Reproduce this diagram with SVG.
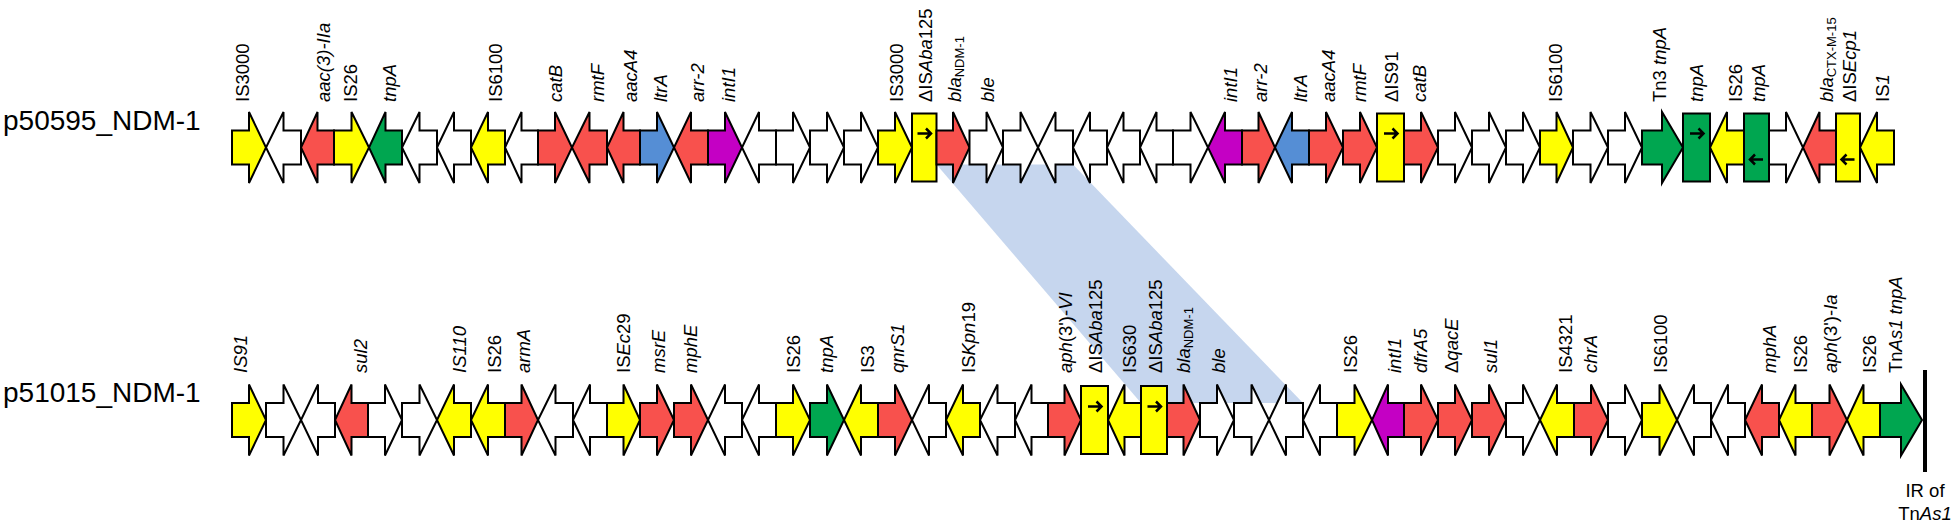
<svg xmlns="http://www.w3.org/2000/svg" width="1955" height="525" viewBox="0 0 1955 525">
<style>
path.a,rect.a{stroke:#000;stroke-width:2;stroke-linejoin:miter}
.y{fill:#ffff00}.w{fill:#fff}.r{fill:#f8514d}.g{fill:#00a650}.b{fill:#558ed5}.p{fill:#c400c4}
text{font-family:"Liberation Sans",Arial,sans-serif;font-size:18.5px;fill:#000}
.i{font-style:italic}
.sub{font-size:13px}
.big{font-size:28px}
.mk{fill:none;stroke:#000;stroke-width:2.5}
</style>
<rect width="1955" height="525" fill="#fff"/>
<g id="connectors">
<polygon points="936.5,164.5 1073,164.5 1303,403 1141,403" fill="#c6d6ee"/>
</g>
<g id="row-labels">
<text class="big" x="3" y="130">p50595_NDM-1</text>
<text class="big" x="3" y="402">p51015_NDM-1</text>
</g>
<g id="top-row">
<g id="t01"><path class="a y" d="M232,130.5H249V112L266,147.5L249,183V164.5H232Z"/><text transform="translate(248.5,102) rotate(-90)">IS3000</text></g>
<g id="t02"><path class="a w" d="M301,130.5H283.5V112L266,147.5L283.5,183V164.5H301Z"/></g>
<g id="t03"><path class="a r" d="M334,130.5H317.5V112L301,147.5L317.5,183V164.5H334Z"/><text class="i" transform="translate(330,102) rotate(-90)">aac(3)-IIa</text></g>
<g id="t04"><path class="a y" d="M334,130.5H351.5V112L369,147.5L351.5,183V164.5H334Z"/><text transform="translate(357,102) rotate(-90)">IS26</text></g>
<g id="t05"><path class="a g" d="M402,130.5H385.5V112L369,147.5L385.5,183V164.5H402Z"/><text class="i" transform="translate(396,102) rotate(-90)">tnpA</text></g>
<g id="t06"><path class="a w" d="M437,130.5H419.5V112L402,147.5L419.5,183V164.5H437Z"/></g>
<g id="t07"><path class="a w" d="M471,130.5H454V112L437,147.5L454,183V164.5H471Z"/></g>
<g id="t08"><path class="a y" d="M505,130.5H488V112L471,147.5L488,183V164.5H505Z"/><text transform="translate(502,102) rotate(-90)">IS6100</text></g>
<g id="t09"><path class="a w" d="M538,130.5H521.5V112L505,147.5L521.5,183V164.5H538Z"/></g>
<g id="t10"><path class="a r" d="M538,130.5H555V112L572,147.5L555,183V164.5H538Z"/><text class="i" transform="translate(561.5,102) rotate(-90)">catB</text></g>
<g id="t11"><path class="a r" d="M607,130.5H589.5V112L572,147.5L589.5,183V164.5H607Z"/><text class="i" transform="translate(603.5,102) rotate(-90)">rmtF</text></g>
<g id="t12"><path class="a r" d="M640,130.5H623.5V112L607,147.5L623.5,183V164.5H640Z"/><text class="i" transform="translate(636.5,102) rotate(-90)">aacA4</text></g>
<g id="t13"><path class="a b" d="M640,130.5H657V112L674,147.5L657,183V164.5H640Z"/><text class="i" transform="translate(666.5,102) rotate(-90)">ltrA</text></g>
<g id="t14"><path class="a r" d="M708,130.5H691V112L674,147.5L691,183V164.5H708Z"/><text class="i" transform="translate(703.5,102) rotate(-90)">arr-2</text></g>
<g id="t15"><path class="a p" d="M708,130.5H725V112L742,147.5L725,183V164.5H708Z"/><text class="i" transform="translate(734.5,102) rotate(-90)">intI1</text></g>
<g id="t16"><path class="a w" d="M776,130.5H759V112L742,147.5L759,183V164.5H776Z"/></g>
<g id="t17"><path class="a w" d="M776,130.5H793V112L810,147.5L793,183V164.5H776Z"/></g>
<g id="t18"><path class="a w" d="M810,130.5H827V112L844,147.5L827,183V164.5H810Z"/></g>
<g id="t19"><path class="a w" d="M844,130.5H861V112L878,147.5L861,183V164.5H844Z"/></g>
<g id="t20"><path class="a y" d="M878,130.5H895V112L912,147.5L895,183V164.5H878Z"/><text transform="translate(902.5,102) rotate(-90)">IS3000</text></g>
<g id="t21"><rect class="a y" x="912" y="113.5" width="24.5" height="68"/><path class="mk" d="M917.5,133.5H931M926,128.5L931,133.5L926,138.5"/><text transform="translate(931.5,102) rotate(-90)">ΔIS<tspan class="i">Aba</tspan>125</text></g>
<g id="t22"><path class="a r" d="M936.5,130.5H953V112L969.5,147.5L953,183V164.5H936.5Z"/><text transform="translate(961,102) rotate(-90)"><tspan class="i">bla</tspan><tspan class="sub" dy="3">NDM-1</tspan></text></g>
<g id="t23"><path class="a w" d="M969.5,130.5H986.5V112L1003,147.5L986.5,183V164.5H969.5Z"/><text class="i" transform="translate(993.5,102) rotate(-90)">ble</text></g>
<g id="t24"><path class="a w" d="M1003,130.5H1020.5V112L1038,147.5L1020.5,183V164.5H1003Z"/></g>
<g id="t25"><path class="a w" d="M1073,130.5H1055.5V112L1038,147.5L1055.5,183V164.5H1073Z"/></g>
<g id="t26"><path class="a w" d="M1107,130.5H1090V112L1073,147.5L1090,183V164.5H1107Z"/></g>
<g id="t27"><path class="a w" d="M1140,130.5H1123.5V112L1107,147.5L1123.5,183V164.5H1140Z"/></g>
<g id="t28"><path class="a w" d="M1173,130.5H1156.5V112L1140,147.5L1156.5,183V164.5H1173Z"/></g>
<g id="t29"><path class="a w" d="M1173,130.5H1190.5V112L1208,147.5L1190.5,183V164.5H1173Z"/></g>
<g id="t30"><path class="a p" d="M1242,130.5H1225V112L1208,147.5L1225,183V164.5H1242Z"/><text class="i" transform="translate(1236.5,102) rotate(-90)">intI1</text></g>
<g id="t31"><path class="a r" d="M1242,130.5H1258.5V112L1275,147.5L1258.5,183V164.5H1242Z"/><text class="i" transform="translate(1266.5,102) rotate(-90)">arr-2</text></g>
<g id="t32"><path class="a b" d="M1309,130.5H1292V112L1275,147.5L1292,183V164.5H1309Z"/><text class="i" transform="translate(1306.5,102) rotate(-90)">ltrA</text></g>
<g id="t33"><path class="a r" d="M1309,130.5H1326V112L1343,147.5L1326,183V164.5H1309Z"/><text class="i" transform="translate(1334.5,102) rotate(-90)">aacA4</text></g>
<g id="t34"><path class="a r" d="M1343,130.5H1360V112L1377,147.5L1360,183V164.5H1343Z"/><text class="i" transform="translate(1365.5,102) rotate(-90)">rmtF</text></g>
<g id="t35"><rect class="a y" x="1377" y="113.5" width="27" height="68"/><path class="mk" d="M1384,133.5H1397.5M1392.5,128.5L1397.5,133.5L1392.5,138.5"/><text transform="translate(1397.5,102) rotate(-90)">ΔIS91</text></g>
<g id="t36"><path class="a r" d="M1404,130.5H1421V112L1438,147.5L1421,183V164.5H1404Z"/><text class="i" transform="translate(1425.5,102) rotate(-90)">catB</text></g>
<g id="t37"><path class="a w" d="M1438,130.5H1455V112L1472,147.5L1455,183V164.5H1438Z"/></g>
<g id="t38"><path class="a w" d="M1472,130.5H1489V112L1506,147.5L1489,183V164.5H1472Z"/></g>
<g id="t39"><path class="a w" d="M1506,130.5H1523V112L1540,147.5L1523,183V164.5H1506Z"/></g>
<g id="t40"><path class="a y" d="M1540,130.5H1556.5V112L1573,147.5L1556.5,183V164.5H1540Z"/><text transform="translate(1561.5,102) rotate(-90)">IS6100</text></g>
<g id="t41"><path class="a w" d="M1573,130.5H1590.5V112L1608,147.5L1590.5,183V164.5H1573Z"/></g>
<g id="t42"><path class="a w" d="M1608,130.5H1625V112L1642,147.5L1625,183V164.5H1608Z"/></g>
<g id="t43"><path class="a g" d="M1642,130.5H1662V112L1683,147.5L1662,183V164.5H1642Z"/><text transform="translate(1665.5,102) rotate(-90)">Tn3 <tspan class="i">tnpA</tspan></text></g>
<g id="t44"><rect class="a g" x="1683" y="113.5" width="27" height="68"/><path class="mk" d="M1690,133.5H1703.5M1698.5,128.5L1703.5,133.5L1698.5,138.5"/><text class="i" transform="translate(1703,102) rotate(-90)">tnpA</text></g>
<g id="t45"><path class="a y" d="M1744,130.5H1727V112L1710,147.5L1727,183V164.5H1744Z"/><text transform="translate(1741.5,102) rotate(-90)">IS26</text></g>
<g id="t46"><rect class="a g" x="1744" y="113.5" width="25" height="68"/><path class="mk" d="M1763,159.5H1750M1755,154.5L1750,159.5L1755,164.5"/><text class="i" transform="translate(1765,102) rotate(-90)">tnpA</text></g>
<g id="t47"><path class="a w" d="M1769,130.5H1786V112L1803,147.5L1786,183V164.5H1769Z"/></g>
<g id="t48"><path class="a r" d="M1836,130.5H1819.5V112L1803,147.5L1819.5,183V164.5H1836Z"/><text transform="translate(1833,102) rotate(-90)"><tspan class="i">bla</tspan><tspan class="sub" dy="3">CTX-M-15</tspan></text></g>
<g id="t49"><rect class="a y" x="1836" y="113.5" width="24" height="68"/><path class="mk" d="M1854.5,159.5H1841.5M1846.5,154.5L1841.5,159.5L1846.5,164.5"/><text transform="translate(1856,102) rotate(-90)">ΔIS<tspan class="i">Ecp1</tspan></text></g>
<g id="t50"><path class="a y" d="M1894,130.5H1877V112L1860,147.5L1877,183V164.5H1894Z"/><text transform="translate(1888.5,102) rotate(-90)">IS<tspan class="i">1</tspan></text></g>
</g>
<g id="bottom-row">
<g id="b01"><path class="a y" d="M232,403H249V384.5L266,420L249,455.5V437H232Z"/><text class="i" transform="translate(246.5,373) rotate(-90)">IS91</text></g>
<g id="b02"><path class="a w" d="M266,403H283.5V384.5L301,420L283.5,455.5V437H266Z"/></g>
<g id="b03"><path class="a w" d="M335,403H318V384.5L301,420L318,455.5V437H335Z"/></g>
<g id="b04"><path class="a r" d="M368,403H351.5V384.5L335,420L351.5,455.5V437H368Z"/><text class="i" transform="translate(366.5,373) rotate(-90)">sul2</text></g>
<g id="b05"><path class="a w" d="M368,403H385V384.5L402,420L385,455.5V437H368Z"/></g>
<g id="b06"><path class="a w" d="M402,403H419.5V384.5L437,420L419.5,455.5V437H402Z"/></g>
<g id="b07"><path class="a y" d="M471,403H454V384.5L437,420L454,455.5V437H471Z"/><text class="i" transform="translate(465.5,373) rotate(-90)">IS110</text></g>
<g id="b08"><path class="a y" d="M505,403H488V384.5L471,420L488,455.5V437H505Z"/><text transform="translate(500.5,373) rotate(-90)">IS26</text></g>
<g id="b09"><path class="a r" d="M505,403H521.5V384.5L538,420L521.5,455.5V437H505Z"/><text class="i" transform="translate(529.5,373) rotate(-90)">armA</text></g>
<g id="b10"><path class="a w" d="M573,403H555.5V384.5L538,420L555.5,455.5V437H573Z"/></g>
<g id="b11"><path class="a w" d="M607,403H590V384.5L573,420L590,455.5V437H607Z"/></g>
<g id="b12"><path class="a y" d="M607,403H623.5V384.5L640,420L623.5,455.5V437H607Z"/><text transform="translate(629.5,373) rotate(-90)">IS<tspan class="i">Ec</tspan>29</text></g>
<g id="b13"><path class="a r" d="M640,403H657V384.5L674,420L657,455.5V437H640Z"/><text class="i" transform="translate(664.5,373) rotate(-90)">msrE</text></g>
<g id="b14"><path class="a r" d="M674,403H691V384.5L708,420L691,455.5V437H674Z"/><text class="i" transform="translate(697,373) rotate(-90)">mphE</text></g>
<g id="b15"><path class="a w" d="M742,403H725V384.5L708,420L725,455.5V437H742Z"/></g>
<g id="b16"><path class="a w" d="M776,403H759V384.5L742,420L759,455.5V437H776Z"/></g>
<g id="b17"><path class="a y" d="M776,403H793V384.5L810,420L793,455.5V437H776Z"/><text transform="translate(799.5,373) rotate(-90)">IS26</text></g>
<g id="b18"><path class="a g" d="M810,403H827V384.5L844,420L827,455.5V437H810Z"/><text class="i" transform="translate(833,373) rotate(-90)">tnpA</text></g>
<g id="b19"><path class="a y" d="M878,403H861V384.5L844,420L861,455.5V437H878Z"/><text transform="translate(873.5,373) rotate(-90)">IS3</text></g>
<g id="b20"><path class="a r" d="M878,403H895V384.5L912,420L895,455.5V437H878Z"/><text class="i" transform="translate(903.5,373) rotate(-90)">qnrS1</text></g>
<g id="b21"><path class="a w" d="M946,403H929V384.5L912,420L929,455.5V437H946Z"/></g>
<g id="b22"><path class="a y" d="M980,403H963V384.5L946,420L963,455.5V437H980Z"/><text transform="translate(974.5,373) rotate(-90)">IS<tspan class="i">Kpn</tspan>19</text></g>
<g id="b23"><path class="a w" d="M1015,403H997.5V384.5L980,420L997.5,455.5V437H1015Z"/></g>
<g id="b24"><path class="a w" d="M1048,403H1031.5V384.5L1015,420L1031.5,455.5V437H1048Z"/></g>
<g id="b25"><path class="a r" d="M1048,403H1064.5V384.5L1081,420L1064.5,455.5V437H1048Z"/><text transform="translate(1072,373) rotate(-90)"><tspan class="i">aph</tspan>(3')-<tspan class="i">VI</tspan></text></g>
<g id="b26"><rect class="a y" x="1081" y="386" width="27" height="68"/><path class="mk" d="M1088,406.5H1101.5M1096.5,401.5L1101.5,406.5L1096.5,411.5"/><text transform="translate(1101.5,373) rotate(-90)">ΔIS<tspan class="i">Aba</tspan>125</text></g>
<g id="b27"><path class="a y" d="M1141,403H1124.5V384.5L1108,420L1124.5,455.5V437H1141Z"/><text transform="translate(1135.5,373) rotate(-90)">IS630</text></g>
<g id="b28"><rect class="a y" x="1141" y="386" width="26" height="68"/><path class="mk" d="M1147.5,406.5H1161M1156,401.5L1161,406.5L1156,411.5"/><text transform="translate(1161.5,373) rotate(-90)">ΔIS<tspan class="i">Aba</tspan>125</text></g>
<g id="b29"><path class="a r" d="M1167,403H1183.5V384.5L1200,420L1183.5,455.5V437H1167Z"/><text transform="translate(1190,373) rotate(-90)"><tspan class="i">bla</tspan><tspan class="sub" dy="3">NDM-1</tspan></text></g>
<g id="b30"><path class="a w" d="M1200,403H1217V384.5L1234,420L1217,455.5V437H1200Z"/><text class="i" transform="translate(1224.5,373) rotate(-90)">ble</text></g>
<g id="b31"><path class="a w" d="M1234,403H1251.5V384.5L1269,420L1251.5,455.5V437H1234Z"/></g>
<g id="b32"><path class="a w" d="M1303,403H1286V384.5L1269,420L1286,455.5V437H1303Z"/></g>
<g id="b33"><path class="a w" d="M1337,403H1320V384.5L1303,420L1320,455.5V437H1337Z"/></g>
<g id="b34"><path class="a y" d="M1337,403H1354.5V384.5L1372,420L1354.5,455.5V437H1337Z"/><text transform="translate(1356.5,373) rotate(-90)">IS26</text></g>
<g id="b35"><path class="a p" d="M1404,403H1388V384.5L1372,420L1388,455.5V437H1404Z"/><text class="i" transform="translate(1400.5,373) rotate(-90)">intI1</text></g>
<g id="b36"><path class="a r" d="M1404,403H1421V384.5L1438,420L1421,455.5V437H1404Z"/><text class="i" transform="translate(1426.5,373) rotate(-90)">dfrA5</text></g>
<g id="b37"><path class="a r" d="M1438,403H1455V384.5L1472,420L1455,455.5V437H1438Z"/><text transform="translate(1457.5,373) rotate(-90)">Δ<tspan class="i">qacE</tspan></text></g>
<g id="b38"><path class="a r" d="M1472,403H1489V384.5L1506,420L1489,455.5V437H1472Z"/><text class="i" transform="translate(1496.5,373) rotate(-90)">sul1</text></g>
<g id="b39"><path class="a w" d="M1506,403H1523V384.5L1540,420L1523,455.5V437H1506Z"/></g>
<g id="b40"><path class="a y" d="M1574,403H1557V384.5L1540,420L1557,455.5V437H1574Z"/><text transform="translate(1571.5,373) rotate(-90)">IS4321</text></g>
<g id="b41"><path class="a r" d="M1574,403H1591V384.5L1608,420L1591,455.5V437H1574Z"/><text class="i" transform="translate(1596.5,373) rotate(-90)">chrA</text></g>
<g id="b42"><path class="a w" d="M1608,403H1625V384.5L1642,420L1625,455.5V437H1608Z"/></g>
<g id="b43"><path class="a y" d="M1642,403H1659.5V384.5L1677,420L1659.5,455.5V437H1642Z"/><text transform="translate(1666.5,373) rotate(-90)">IS6100</text></g>
<g id="b44"><path class="a w" d="M1711,403H1694V384.5L1677,420L1694,455.5V437H1711Z"/></g>
<g id="b45"><path class="a w" d="M1745,403H1728V384.5L1711,420L1728,455.5V437H1745Z"/></g>
<g id="b46"><path class="a r" d="M1779,403H1762V384.5L1745,420L1762,455.5V437H1779Z"/><text class="i" transform="translate(1776,373) rotate(-90)">mphA</text></g>
<g id="b47"><path class="a y" d="M1812,403H1795.5V384.5L1779,420L1795.5,455.5V437H1812Z"/><text transform="translate(1806.5,373) rotate(-90)">IS26</text></g>
<g id="b48"><path class="a r" d="M1812,403H1829.5V384.5L1847,420L1829.5,455.5V437H1812Z"/><text transform="translate(1837,373) rotate(-90)"><tspan class="i">aph</tspan>(3')-<tspan class="i">Ia</tspan></text></g>
<g id="b49"><path class="a y" d="M1880,403H1863.5V384.5L1847,420L1863.5,455.5V437H1880Z"/><text transform="translate(1875.5,373) rotate(-90)">IS26</text></g>
<g id="b50"><path class="a g" d="M1880,403H1901V384.5L1922,420L1901,455.5V437H1880Z"/><text transform="translate(1901.5,373) rotate(-90)">Tn<tspan class="i">As1</tspan> <tspan class="i">tnpA</tspan></text></g>
</g>
<g id="ir-marker">
<rect x="1923" y="370" width="4" height="102" fill="#000"/>
<text x="1925" y="497" text-anchor="middle">IR of</text>
<text x="1925" y="520" text-anchor="middle">Tn<tspan class="i">As1</tspan></text>
</g>
</svg>
